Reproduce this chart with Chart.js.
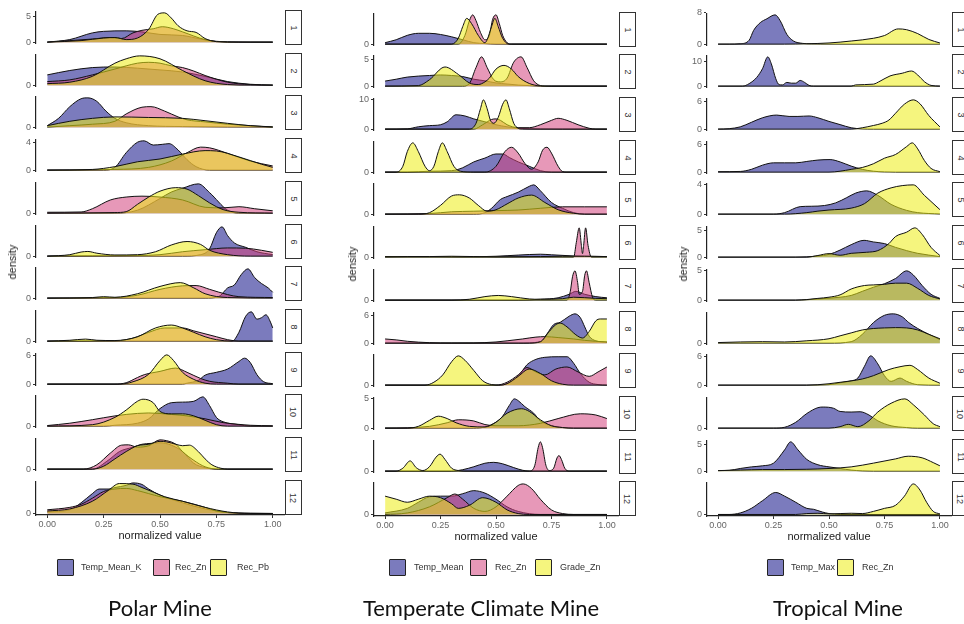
<!DOCTYPE html>
<html>
<head>
<meta charset="utf-8">
<script src="https://cdn.jsdelivr.net/npm/chart.js@4.4.0/dist/chart.umd.min.js"></script>
<style>
    body { margin: 0; width: 964px; height: 624px; overflow: hidden; background: #fff; position: relative;
           font-family: 'Liberation Sans', Arial, sans-serif; }
    canvas { position: absolute; }
    .strip { position: absolute; box-sizing: border-box; border: 1px solid #333; background: #fff;
             display: flex; align-items: center; justify-content: center; }
    .strip span { transform: rotate(90deg); font-size: 9px; color: #333; }
    .ylab { position: absolute; font-size: 11px; color: #222; transform: translate(-50%, -50%) rotate(-90deg); white-space: nowrap; }
    .key { position: absolute; width: 17px; height: 17px; box-sizing: border-box; border: 1px solid #222; border-radius: 1px; }
    .keytext { position: absolute; font-size: 9px; color: #333; line-height: 17px; white-space: nowrap; }
    .title { position: absolute; font-family: Lato, 'Open Sans', sans-serif; font-size: 22px; color: #111;
             transform: translate(-50%, -50%); white-space: nowrap; }
</style>
</head>
<body>
<script>
// x axis breaks
const X_TICKS = [0, 0.25, 0.5, 0.75, 1];

// ---- Polar Mine: one curve per facet (1..12), points are [normalized value, density]
const polarTempMeanK = [
    [[0,0],[.1,.5],[.2,1.8],[.25,2.1],[.35,2.2],[.42,2.0],[.5,1.5],[.6,1.3],[.68,.6],[.75,.1],[.85,0],[1,0]],
    [[0,.35],[.1,.5],[.2,.6],[.3,.62],[.4,.58],[.5,.52],[.6,.45],[.7,.3],[.8,.12],[.9,.03],[1,0]],
    [[0,.05],[.05,.3],[.1,.7],[.15,.97],[.18,1],[.22,.88],[.26,.55],[.3,.3],[.35,.15],[.45,.05],[.6,.02],[1,0]],
    [[0,0],[.25,0],[.3,.4],[.35,2.5],[.4,4.0],[.43,4.2],[.47,3.6],[.51,3.7],[.54,3.8],[.58,2.9],[.62,1.5],[.66,.5],[.72,0],[1,0]],
    [[0,0],[.3,0],[.4,.1],[.5,.5],[.55,.72],[.6,.85],[.67,1],[.72,.7],[.8,.1],[.85,0],[1,0]],
    [[0,0],[.6,0],[.68,.05],[.72,.25],[.75,.8],[.775,1],[.8,.7],[.83,.45],[.88,.3],[.93,.15],[1,.05]],
    [[0,0],[.7,0],[.76,.05],[.8,.35],[.83,.45],[.86,.8],[.89,1],[.92,.7],[.95,.5],[.98,.35],[1,.2]],
    [[0,0],[.82,0],[.85,.3],[.88,.85],[.905,1],[.93,.75],[.95,.8],[.97,.9],[.99,.65],[1,.45]],
    [[0,0],[.6,0],[.62,.2],[.67,.8],[.7,1.9],[.75,2.5],[.8,3.2],[.85,4.8],[.875,5.5],[.9,4.6],[.93,2.0],[.96,.5],[1,.1]],
    [[0,0],[.25,0],[.3,.03],[.4,.1],[.45,.25],[.5,.6],[.55,.8],[.6,.82],[.65,.85],[.69,1],[.72,.7],[.75,.3],[.78,.15],[.85,.05],[.9,0],[1,0]],
    [[0,0],[.2,0],[.27,.3],[.32,.6],[.38,.75],[.42,.85],[.46,.88],[.5,.9],[.55,.82],[.6,.6],[.65,.2],[.7,.05],[.75,0],[1,0]],
    [[0,.05],[.1,.12],[.15,.35],[.2,.65],[.23,.8],[.27,.8],[.3,.85],[.35,.92],[.38,1],[.42,.95],[.45,.8],[.5,.6],[.6,.35],[.7,.15],[.8,.03],[.9,0],[1,0]]
];
const polarRecZn = [
    [[0,0],[.1,.3],[.2,.6],[.28,.9],[.33,.7],[.38,1.8],[.42,2.3],[.47,2.6],[.51,3.0],[.56,2.6],[.6,2.0],[.7,.5],[.8,.05],[1,0]],
    [[0,.12],[.1,.18],[.2,.35],[.3,.55],[.4,.75],[.45,.78],[.5,.75],[.55,.66],[.6,.6],[.65,.48],[.7,.33],[.8,.1],[.9,.02],[1,0]],
    [[0,0],[.1,.05],[.2,.1],[.3,.2],[.35,.45],[.42,.68],[.46,.7],[.52,.55],[.58,.35],[.62,.25],[.7,.18],[.8,.1],[.9,.05],[1,0]],
    [[0,0],[.3,.1],[.45,.4],[.55,1.3],[.62,2.5],[.68,3.3],[.72,3.2],[.8,2.4],[.9,1.3],[1,.6]],
    [[0,.03],[.15,.04],[.2,.15],[.28,.45],[.35,.55],[.42,.58],[.5,.55],[.6,.45],[.7,.2],[.78,.18],[.85,.22],[.92,.15],[1,.08]],
    [[0,0],[.2,.01],[.4,.02],[.5,.05],[.6,.15],[.7,.22],[.8,.28],[.88,.27],[.95,.2],[1,.13]],
    [[0,0],[.3,.02],[.4,.1],[.5,.3],[.6,.42],[.66,.43],[.72,.3],[.8,.12],[.85,.05],[1,.02]],
    [[0,0],[.3,.01],[.38,.1],[.45,.3],[.52,.45],[.6,.45],[.65,.35],[.7,.25],[.75,.15],[.8,.05],[.85,0],[1,0]],
    [[0,0],[.3,0],[.35,.3],[.4,1.4],[.43,2.0],[.5,2.7],[.57,3.4],[.62,2.5],[.68,1.2],[.72,.6],[.8,.2],[.85,0],[1,0]],
    [[0,.02],[.1,.1],[.2,.22],[.3,.35],[.35,.4],[.45,.45],[.55,.4],[.62,.35],[.7,.25],[.78,.12],[.85,.06],[.9,.03],[1,.01]],
    [[0,0],[.16,0],[.22,.15],[.28,.55],[.33,.82],[.36,.83],[.4,.75],[.45,.8],[.5,1],[.53,.97],[.57,.85],[.6,.6],[.65,.3],[.7,.08],[.76,0],[1,0]],
    [[0,.12],[.1,.2],[.15,.3],[.2,.5],[.25,.72],[.3,.8],[.35,.82],[.4,.75],[.45,.65],[.5,.55],[.6,.4],[.7,.2],[.75,.08],[.8,.03],[.9,.01],[1,0]]
];
const polarRecPb = [
    [[0,0],[.15,.3],[.25,.8],[.3,.9],[.35,.5],[.4,.8],[.45,2.5],[.49,5.4],[.52,5.7],[.55,4.7],[.58,3.2],[.62,2.2],[.66,1.9],[.7,.7],[.75,.1],[.85,0],[1,0]],
    [[0,.05],[.1,.1],[.2,.3],[.3,.75],[.35,.9],[.41,1],[.5,.9],[.6,.5],[.7,.15],[.8,.02],[.9,0],[1,0]],
    [[0,.05],[.1,.2],[.2,.3],[.3,.35],[.45,.33],[.6,.3],[.7,.22],[.8,.13],[.9,.05],[1,.01]],
    [[0,0],[.2,.1],[.3,.5],[.4,1.2],[.5,1.6],[.6,2.3],[.7,2.8],[.75,2.75],[.85,1.9],[.95,.85],[1,.4]],
    [[0,0],[.3,.02],[.35,.05],[.4,.3],[.45,.55],[.5,.75],[.57,.87],[.62,.82],[.67,.6],[.72,.35],[.78,.12],[.85,.03],[1,0]],
    [[0,0],[.1,.05],[.15,.14],[.18,.16],[.22,.1],[.3,.04],[.4,.05],[.48,.15],[.55,.38],[.62,.5],[.68,.4],[.72,.2],[.8,.05],[.9,0],[1,0]],
    [[0,0],[.2,.02],[.25,.05],[.3,.03],[.4,.15],[.5,.4],[.59,.53],[.65,.35],[.7,.15],[.8,.02],[1,0]],
    [[0,0],[.1,.03],[.17,.07],[.22,.03],[.3,.02],[.4,.15],[.48,.45],[.55,.55],[.6,.45],[.65,.3],[.7,.15],[.75,.05],[.82,0],[1,0]],
    [[0,0],[.32,0],[.38,.5],[.45,2.1],[.5,5.0],[.53,6.2],[.56,5.0],[.6,2.5],[.65,1.0],[.7,.2],[.75,0],[1,0]],
    [[0,0],[.2,.05],[.3,.3],[.35,.55],[.4,.85],[.425,.92],[.47,.8],[.5,.5],[.55,.42],[.6,.42],[.65,.35],[.7,.2],[.75,.05],[.8,0],[1,0]],
    [[0,0],[.2,0],[.25,.1],[.3,.35],[.35,.6],[.4,.8],[.45,.85],[.5,.95],[.53,.93],[.57,.85],[.6,.8],[.63,.82],[.67,.6],[.7,.35],[.73,.15],[.77,.03],[.8,0],[1,0]],
    [[0,.08],[.1,.15],[.2,.4],[.27,.75],[.32,.98],[.38,.96],[.42,.85],[.47,.7],[.52,.55],[.6,.4],[.7,.2],[.8,.05],[.9,0],[1,0]]
];
const polarTopTicks = [5, null, null, 4, null, null, null, null, 6, null, null, null];

// ---- Temperate Climate Mine
const tempTempMean = [
    [[0,.05],[.05,.15],[.1,.3],[.15,.37],[.2,.37],[.25,.33],[.3,.25],[.35,.15],[.4,.05],[.45,.02],[.5,0],[1,0]],
    [[0,.95],[.05,1.3],[.1,1.7],[.2,2.0],[.25,2.1],[.3,2.0],[.35,1.8],[.4,1.3],[.45,1.0],[.5,.6],[.55,.4],[.6,.2],[.65,.1],[.7,0],[1,0]],
    [[0,0],[.1,.1],[.15,.8],[.2,1.2],[.25,1.5],[.28,2.5],[.32,4.9],[.36,4.5],[.4,3.5],[.45,2.5],[.5,1.5],[.55,.8],[.6,.3],[.7,.05],[.8,0],[1,0]],
    [[0,0],[.1,0],[.2,.03],[.3,.05],[.35,.15],[.4,.35],[.45,.48],[.5,.62],[.53,.62],[.56,.5],[.6,.35],[.65,.2],[.7,.05],[.75,0],[1,0]],
    [[0,0],[.4,0],[.45,.05],[.48,.2],[.52,.5],[.55,.6],[.6,.75],[.65,.95],[.67,1],[.7,.8],[.75,.4],[.8,.2],[.85,.05],[.9,0],[1,0]],
    [[0,.02],[.2,.02],[.35,.01],[.5,.03],[.6,.07],[.7,.1],[.75,.08],[.85,.04],[.9,.03],[1,.02]],
    [[0,0],[.6,0],[.7,.03],[.78,.08],[.83,.2],[.86,.3],[.9,.2],[.95,.12],[1,.08]],
    [[0,0],[.6,0],[.7,.3],[.73,2.0],[.76,4.0],[.79,4.5],[.83,5.8],[.856,6.3],[.88,5.5],[.9,3.5],[.92,1.5],[.95,.5],[1,.2]],
    [[0,0],[.5,0],[.55,.05],[.6,.3],[.64,.7],[.68,.88],[.72,.95],[.78,.97],[.82,.97],[.85,.75],[.88,.4],[.92,.1],[.96,.02],[1,0]],
    [[0,0],[.4,0],[.45,.2],[.5,1.0],[.53,2.0],[.56,3.8],[.583,4.9],[.6,4.6],[.63,3.6],[.67,2.5],[.7,1.2],[.75,.4],[.8,.1],[.85,0],[1,0]],
    [[0,0],[.3,0],[.35,.05],[.4,.15],[.45,.27],[.49,.3],[.53,.25],[.58,.12],[.62,.03],[.65,0],[1,0]],
    [[0,.05],[.1,.2],[.15,.4],[.2,.58],[.25,.6],[.3,.6],[.35,.68],[.4,.78],[.45,.7],[.5,.5],[.55,.25],[.6,.1],[.7,0],[1,0]]
];
const tempRecZn = [
    [[0,0],[.33,0],[.36,.3],[.38,.8],[.395,1],[.41,.8],[.43,.4],[.45,.15],[.47,.3],[.485,.85],[.5,1],[.515,.7],[.53,.3],[.55,.05],[.57,0],[1,0]],
    [[0,0],[.35,0],[.38,.5],[.41,3.5],[.435,5.5],[.46,3.5],[.49,1.2],[.52,.8],[.55,1.5],[.58,4.5],[.613,5.5],[.64,3.5],[.67,1.0],[.7,.1],[.72,0],[1,0]],
    [[0,0],[.4,0],[.44,1.5],[.48,3.3],[.5,3.5],[.52,3.0],[.55,1.5],[.6,.5],[.65,.5],[.7,1.5],[.75,3.0],[.78,3.7],[.82,3.0],[.87,1.5],[.92,.3],[.95,0],[1,0]],
    [[0,0],[.45,0],[.5,.2],[.54,.7],[.57,.85],[.6,.65],[.63,.3],[.66,.1],[.69,.35],[.71,.75],[.73,.85],[.75,.65],[.78,.2],[.8,.02],[.82,0],[1,0]],
    [[0,0],[.2,.02],[.3,.08],[.4,.1],[.5,.12],[.6,.14],[.7,.2],[.8,.25],[.9,.25],[1,.25]],
    [[0,0],[.85,0],[.862,.5],[.875,1],[.885,.4],[.89,.12],[.895,.4],[.904,1],[.915,.4],[.93,0],[1,0]],
    [[0,0],[.82,0],[.835,.3],[.845,.8],[.856,1],[.868,.6],[.875,.2],[.89,.3],[.9,.85],[.908,1],[.92,.6],[.935,.1],[.95,0],[1,0]],
    [[0,.9],[.05,.7],[.1,.4],[.2,.1],[.3,.03],[.4,.05],[.5,.25],[.55,.5],[.62,.9],[.68,1.3],[.72,1.4],[.78,1.2],[.85,.9],[.9,.6],[.95,.4],[1,.25]],
    [[0,0],[.5,0],[.55,.1],[.6,.35],[.64,.6],[.68,.45],[.72,.35],[.77,.55],[.82,.62],[.87,.45],[.92,.3],[.96,.45],[1,.62]],
    [[0,0],[.1,.05],[.2,.3],[.28,.9],[.33,1.4],[.4,1.2],[.45,.6],[.5,.4],[.6,.4],[.7,.8],[.78,1.6],[.88,2.4],[.95,2.2],[1,1.6]],
    [[0,0],[.65,0],[.675,.2],[.69,.8],[.7,1],[.71,.8],[.725,.2],[.74,.02],[.76,.1],[.775,.45],[.784,.53],[.795,.4],[.81,.1],[.83,0],[1,0]],
    [[0,0],[.1,.05],[.2,.25],[.28,.55],[.315,.67],[.35,.5],[.4,.2],[.45,.1],[.5,.25],[.55,.6],[.6,.95],[.623,1],[.66,.85],[.7,.5],[.75,.15],[.8,.03],[.85,0],[1,0]]
];
const tempGradeZn = [
    [[0,0],[.3,0],[.33,.2],[.35,.6],[.368,.88],[.39,.7],[.42,.3],[.45,.05],[.46,.15],[.48,.6],[.495,.88],[.51,.6],[.53,.2],[.56,0],[1,0]],
    [[0,0],[.15,.1],[.2,1.2],[.27,3.6],[.33,2.2],[.38,.6],[.42,.3],[.45,.8],[.47,1.5],[.5,3.2],[.536,3.9],[.57,3.2],[.6,1.8],[.65,.5],[.7,.05],[.75,0],[1,0]],
    [[0,0],[.38,0],[.41,2],[.43,7],[.443,10],[.46,7],[.475,3],[.49,2],[.51,4],[.53,8.5],[.545,10],[.56,7],[.58,2],[.6,.3],[.62,0],[1,0]],
    [[0,0],[.05,0],[.08,.2],[.1,.7],[.125,1],[.15,.7],[.18,.2],[.2,.05],[.22,.2],[.24,.7],[.258,1],[.28,.7],[.31,.2],[.34,.03],[.4,0],[1,0]],
    [[0,0],[.15,0],[.2,.05],[.25,.3],[.3,.62],[.335,.66],[.38,.55],[.42,.3],[.46,.1],[.5,.15],[.55,.35],[.6,.55],[.66,.65],[.72,.4],[.78,.15],[.85,.03],[.9,0],[1,0]],
    [[0,.01],[.1,.02],[.2,.02],[.3,.03],[.4,.02],[.5,.01],[.7,.02],[.8,.03],[.9,.03],[1,.02]],
    [[0,0],[.3,0],[.38,.03],[.45,.12],[.51,.16],[.57,.12],[.65,.04],[.7,.03],[.8,.05],[.85,.1],[.95,.06],[1,.05]],
    [[0,0],[.65,0],[.7,.3],[.74,2.5],[.77,4.0],[.79,4.3],[.82,3.5],[.86,1.8],[.89,1.1],[.92,2.5],[.95,4.8],[.97,5.2],[1,5.2]],
    [[0,0],[.18,0],[.22,.1],[.26,.35],[.3,.8],[.33,1],[.36,.85],[.4,.5],[.44,.15],[.48,.02],[.52,0],[.55,.05],[.6,.3],[.65,.55],[.7,.4],[.75,.15],[.8,.03],[.85,0],[1,0]],
    [[0,0],[.1,0],[.15,.3],[.2,1.3],[.24,2.0],[.28,1.6],[.32,.9],[.38,.3],[.45,.2],[.5,1.0],[.55,2.5],[.615,3.25],[.65,2.8],[.7,1.4],[.75,.4],[.8,.1],[.85,0],[1,0]],
    [[0,0],[.05,0],[.08,.1],[.113,.35],[.14,.12],[.17,.02],[.2,.15],[.23,.48],[.248,.58],[.27,.4],[.3,.1],[.33,.02],[.36,0],[1,0]],
    [[0,.6],[.05,.5],[.1,.4],[.15,.5],[.2,.6],[.25,.55],[.3,.35],[.33,.2],[.38,.3],[.44,.55],[.5,.4],[.55,.15],[.6,.03],[.65,0],[1,0]]
];
const tempTopTicks = [null, 5, 10, null, null, null, null, 6, null, 5, null, null];

// ---- Tropical Mine
const tropTempMax = [
    [[0,0],[.05,0],[.1,.1],[.14,1.0],[.16,3.5],[.19,5.5],[.22,6.5],[.257,7.5],[.28,6.0],[.31,2.5],[.34,.8],[.38,.2],[.42,.05],[.5,0],[1,0]],
    [[0,0],[.11,0],[.14,1.0],[.174,3.5],[.2,7.0],[.224,11.8],[.24,9.0],[.26,3.0],[.275,.6],[.29,.5],[.31,1.5],[.33,1.2],[.35,1.2],[.37,2.3],[.39,1.5],[.41,.3],[.43,0],[1,0]],
    [[0,0],[.05,.1],[.1,.5],[.15,1.5],[.2,2.5],[.264,3.1],[.32,2.8],[.36,2.8],[.41,2.9],[.45,2.5],[.5,1.7],[.55,1.0],[.6,.3],[.65,.05],[.7,0],[1,0]],
    [[0,.1],[.1,.15],[.15,.6],[.2,1.5],[.25,2.0],[.3,2.0],[.35,2.0],[.4,2.3],[.45,2.6],[.505,2.7],[.55,2.2],[.6,1.3],[.65,.6],[.7,.2],[.75,.05],[.8,0],[1,0]],
    [[0,0],[.25,0],[.3,.2],[.37,1.0],[.42,1.05],[.48,1.15],[.53,1.5],[.58,2.2],[.62,2.8],[.67,3.1],[.72,2.5],[.78,1.3],[.85,.5],[.9,.2],[1,.02]],
    [[0,0],[.35,0],[.45,.2],[.5,.5],[.55,1.3],[.6,2.3],[.658,3.1],[.7,2.8],[.75,2.5],[.8,1.8],[.85,1.2],[.9,.7],[1,.1]],
    [[0,0],[.35,0],[.45,.2],[.55,.5],[.6,.8],[.65,1.5],[.7,2.2],[.75,2.8],[.8,3.7],[.85,5.0],[.88,4.3],[.92,2.5],[.96,1.0],[1,.3]],
    [[0,0],[.5,0],[.6,.05],[.65,.3],[.7,.7],[.75,.95],[.79,1],[.83,.9],[.86,.7],[.9,.5],[.95,.3],[1,.12]],
    [[0,0],[.4,0],[.5,.1],[.55,.5],[.6,.9],[.63,1.5],[.66,4.0],[.688,6.2],[.72,4.5],[.75,2.0],[.78,.8],[.82,1.5],[.85,.8],[.9,.1],[1,0]],
    [[0,0],[.25,0],[.3,.03],[.35,.2],[.4,.5],[.45,.7],[.474,.72],[.52,.68],[.55,.57],[.6,.55],[.64,.56],[.68,.45],[.72,.25],[.78,.08],[.85,.02],[.9,0],[1,0]],
    [[0,.1],[.05,.15],[.1,.5],[.15,.8],[.2,1.0],[.25,1.5],[.3,4.0],[.327,5.5],[.36,4.0],[.4,2.2],[.45,1.2],[.5,.8],[.55,.5],[.6,.2],[.65,.05],[.7,0],[1,0]],
    [[0,0],[.05,0],[.1,.05],[.15,.2],[.2,.45],[.26,.72],[.3,.6],[.35,.4],[.4,.2],[.43,.17],[.47,.08],[.5,.03],[.55,0],[1,0]]
];
const tropRecZn = [
    [[0,0],[.3,0],[.4,.1],[.5,.3],[.6,.8],[.7,1.5],[.75,2.2],[.812,3.9],[.85,3.7],[.9,2.7],[.95,1.2],[1,.3]],
    [[0,0],[.6,0],[.62,.5],[.7,.8],[.73,2.0],[.775,4.1],[.83,5.2],[.872,6.1],[.9,4.5],[.93,1.8],[.96,.3],[1,0]],
    [[0,0],[.6,0],[.65,.3],[.7,.8],[.74,1.3],[.77,2.0],[.8,3.5],[.84,5.5],[.88,6.45],[.91,5.6],[.95,3.0],[1,.5]],
    [[0,0],[.5,0],[.55,.2],[.6,.6],[.65,1.0],[.7,1.8],[.75,3.0],[.8,3.8],[.85,5.5],[.875,6.3],[.9,5.0],[.93,2.5],[.96,.8],[1,.1]],
    [[0,0],[.3,0],[.4,.2],[.45,.4],[.5,.55],[.6,.8],[.66,1.4],[.72,2.8],[.78,3.5],[.83,3.8],[.88,3.9],[.93,2.5],[1,.6]],
    [[0,0],[.4,0],[.45,.3],[.5,.65],[.55,.35],[.6,.7],[.67,.9],[.72,1.2],[.77,2.5],[.8,3.8],[.85,4.6],[.887,5.4],[.92,4.2],[.96,1.8],[1,.3]],
    [[0,0],[.35,0],[.4,.1],[.45,.3],[.5,.5],[.55,.9],[.6,1.9],[.66,2.5],[.7,2.6],[.75,2.7],[.8,2.9],[.85,2.9],[.9,2.0],[.95,.8],[1,.2]],
    [[0,.02],[.1,.04],[.2,.05],[.3,.04],[.4,.08],[.5,.15],[.55,.25],[.6,.35],[.65,.45],[.7,.5],[.75,.52],[.8,.53],[.85,.52],[.9,.45],[.95,.3],[1,.15]],
    [[0,0],[.4,0],[.5,.3],[.55,.6],[.6,.9],[.65,1.3],[.7,2.0],[.77,3.3],[.82,3.9],[.865,4.2],[.9,3.3],[.95,1.5],[1,.4]],
    [[0,0],[.5,0],[.55,.05],[.587,.13],[.63,.05],[.68,.25],[.72,.55],[.78,.85],[.842,1],[.88,.8],[.93,.45],[.97,.15],[1,.05]],
    [[0,.1],[.1,.2],[.2,.3],[.3,.3],[.4,.35],[.5,.5],[.6,.8],[.7,1.5],[.8,2.3],[.857,2.8],[.92,2.5],[.97,1.6],[1,1.0]],
    [[0,0],[.35,0],[.4,.03],[.45,.04],[.5,.02],[.55,.03],[.6,.04],[.65,.03],[.7,.1],[.75,.2],[.8,.3],[.84,.6],[.88,1],[.91,.8],[.94,.4],[.97,.1],[1,.02]]
];
const tropTopTicks = [8, 10, 6, 6, 4, 5, 5, null, 6, null, 5, null];

// Fill colours (semi-transparent, like ggplot alpha)
const BLUE = 'rgba(15,15,135,0.55)';
const PINK = 'rgba(211,68,126,0.55)';
const YELLOW = 'rgba(237,237,20,0.55)';

// Layout
const FACETS = 12;
const PITCH = 42.7;
const PANEL_H = 35;
const PAD = 6;
const Y_AXIS_W = 30;
const X_AXIS_H = 28;
const PAD_R = 8;

const panels = [
    {
        title: 'Polar Mine', titleX: 160, axisX: 36, width: 248, top: 10, densityX: 12,
        topTicks: polarTopTicks,
        series: [
            { name: 'Temp_Mean_K', curves: polarTempMeanK, fill: BLUE, key: 57, text: 81 },
            { name: 'Rec_Zn', curves: polarRecZn, fill: PINK, key: 153, text: 175 },
            { name: 'Rec_Pb', curves: polarRecPb, fill: YELLOW, key: 210, text: 237 }
        ]
    },
    {
        title: 'Temperate Climate Mine', titleX: 481, axisX: 374, width: 244, top: 11.6, densityX: 352,
        topTicks: tempTopTicks,
        series: [
            { name: 'Temp_Mean', curves: tempTempMean, fill: BLUE, key: 389, text: 414 },
            { name: 'Rec_Zn', curves: tempRecZn, fill: PINK, key: 470, text: 495 },
            { name: 'Grade_Zn', curves: tempGradeZn, fill: YELLOW, key: 535, text: 560 }
        ]
    },
    {
        title: 'Tropical Mine', titleX: 838, axisX: 707, width: 244, top: 11.6, densityX: 683,
        topTicks: tropTopTicks,
        series: [
            { name: 'Temp_Max', curves: tropTempMax, fill: BLUE, key: 767, text: 791 },
            { name: 'Rec_Zn', curves: tropRecZn, fill: YELLOW, key: 837, text: 862 }
        ]
    }
];

Chart.defaults.font.family = "'Liberation Sans', Arial, sans-serif";

function addEl(cls, css, html) {
    const el = document.createElement('div');
    el.className = cls;
    el.style.cssText = css;
    el.innerHTML = html;
    document.body.appendChild(el);
    return el;
}

function buildFacet(panel, i) {
    const isBottom = i === FACETS - 1;
    const top = Math.round(panel.top + i * PITCH);
    const w = Y_AXIS_W + panel.width + PAD_R;
    const h = PAD + PANEL_H + (isBottom ? X_AXIS_H + 2 : PAD);

    const canvas = document.createElement('canvas');
    canvas.width = w;
    canvas.height = h;
    canvas.style.cssText = `left:${panel.axisX - Y_AXIS_W}px;top:${top - PAD}px;width:${w}px;height:${h}px`;
    document.body.appendChild(canvas);

    // free y scale per facet, expanded 5% like ggplot
    const peak = Math.max(...panel.series.flatMap(s => s.curves[i].map(p => p[1])));
    const tickTop = panel.topTicks[i];

    const xScale = {
        type: 'linear',
        min: -0.05,
        max: 1.05,
        display: isBottom,
        afterBuildTicks: scale => { scale.ticks = X_TICKS.map(v => ({ value: v })); },
        ticks: { callback: v => v.toFixed(2), color: '#666', font: { size: 9 }, padding: 1, maxRotation: 0 },
        grid: { drawOnChartArea: false, tickLength: 3, color: '#333' },
        border: { color: '#222', width: 1.2 },
        title: { display: true, text: 'normalized value', color: '#222', font: { size: 11 }, padding: 0 }
    };
    if (isBottom) xScale.afterFit = scale => { scale.height = X_AXIS_H; };

    new Chart(canvas, {
        type: 'line',
        data: {
            datasets: panel.series.map((s, k) => ({
                label: s.name,
                data: s.curves[i].map(([x, y]) => ({ x, y })),
                backgroundColor: s.fill,
                borderColor: '#111',
                borderWidth: 1,
                fill: 'origin',
                pointRadius: 0,
                cubicInterpolationMode: 'monotone',
                order: panel.series.length - k
            }))
        },
        options: {
            responsive: false,
            animation: false,
            events: [],
            layout: { padding: { top: PAD, bottom: isBottom ? 2 : PAD, left: 0, right: PAD_R } },
            plugins: { legend: { display: false }, tooltip: { enabled: false } },
            scales: {
                x: xScale,
                y: {
                    min: -0.05 * peak,
                    max: 1.05 * peak,
                    afterBuildTicks: scale => {
                        scale.ticks = [{ value: 0 }];
                        if (tickTop !== null) scale.ticks.push({ value: tickTop });
                    },
                    afterFit: scale => { scale.width = Y_AXIS_W; },
                    ticks: { callback: v => String(v), color: '#666', font: { size: 9 }, padding: 2 },
                    grid: { drawOnChartArea: false, tickLength: 3, color: '#333' },
                    border: { color: '#222', width: 1.2 }
                }
            }
        }
    });

    addEl('strip', `left:${panel.axisX + panel.width + 1}px;top:${top}px;width:17px;height:${PANEL_H}px`,
        `<span>${i + 1}</span>`);
}

panels.forEach(panel => {
    for (let i = 0; i < FACETS; i++) buildFacet(panel, i);

    const midY = (panel.top + (FACETS - 1) * PITCH + PANEL_H + panel.top) / 2;
    addEl('ylab', `left:${panel.densityX}px;top:${midY}px`, 'density');

    panel.series.forEach(s => {
        addEl('key', `left:${s.key}px;top:559px;background:${s.fill}`, '');
        addEl('keytext', `left:${s.text}px;top:559px`, s.name);
    });

    addEl('title', `left:${panel.titleX}px;top:607px`, panel.title);
});
</script>
</body>
</html>
